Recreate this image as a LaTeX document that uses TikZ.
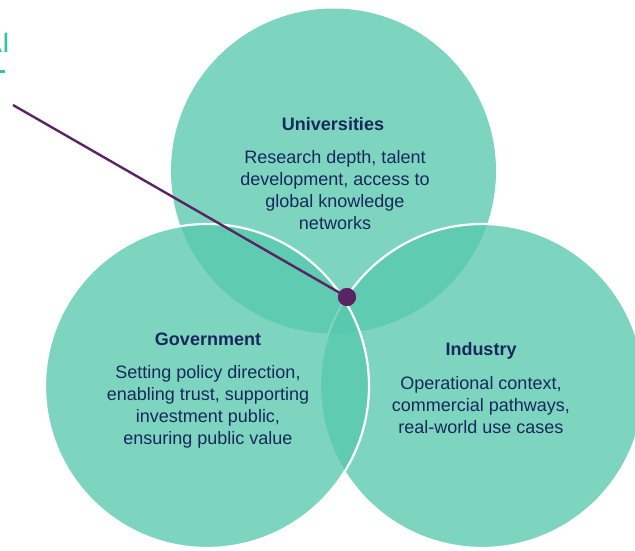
\documentclass[tikz,border=0pt]{standalone}
\usepackage{fontspec}
\setmainfont{Liberation Sans}
\definecolor{circfill}{RGB}{86,200,173}
\definecolor{navy}{RGB}{24,40,92}
\definecolor{plum}{RGB}{90,35,100}
\definecolor{teal}{RGB}{46,196,166}
\begin{document}
\begin{tikzpicture}[x=1pt,y=-1pt,
  venn/.style={fill=circfill,fill opacity=0.77,draw=white,line width=2.2pt},
  title/.style={font=\bfseries\fontsize{18}{20}\selectfont,text=navy,inner sep=0pt},
  body/.style={font=\fontsize{18}{22}\selectfont,text=navy,align=center,inner sep=0pt,anchor=north},
  hubdot/.style={circle,fill=plum,minimum size=18pt,inner sep=0pt},
  pointer/.style={draw=plum,line width=2.4pt}]
\useasboundingbox (0,0) rectangle (635,550);
\begin{scope}
\clip (0,0) rectangle (635,550);
\fill[circfill,fill opacity=0.77] (333.5,171) circle (162.5);
\path[venn] (482,386) circle (162);
\path[venn] (207,386) circle (162);
\node[font=\fontsize{28}{28}\selectfont,text=teal,anchor=base east,inner sep=0pt] (ailabel) at (10,52) {AI};
\fill[teal] (0,70) rectangle (5,73);
\end{scope}
\node[title] (unit) at (333,124) {Universities};
\node[body] (unib) at (335,150.5) {Research depth, talent\\development, access to\\global knowledge\\networks};
\node[title] (govt) at (208,339) {Government};
\node[body] (govb) at (208,365.5) {Setting policy direction,\\enabling trust, supporting\\investment public,\\ensuring public value};
\node[title] (indt) at (481,351) {Industry};
\node[body] (indb) at (481,376.5) {Operational context,\\commercial pathways,\\real-world use cases};
\coordinate (start) at (13,105);
\node[hubdot] (hub) at (347,297) {};
\draw[pointer] (start) -- (hub.center);
\node[hubdot] at (hub) {};
\end{tikzpicture}
\end{document}
